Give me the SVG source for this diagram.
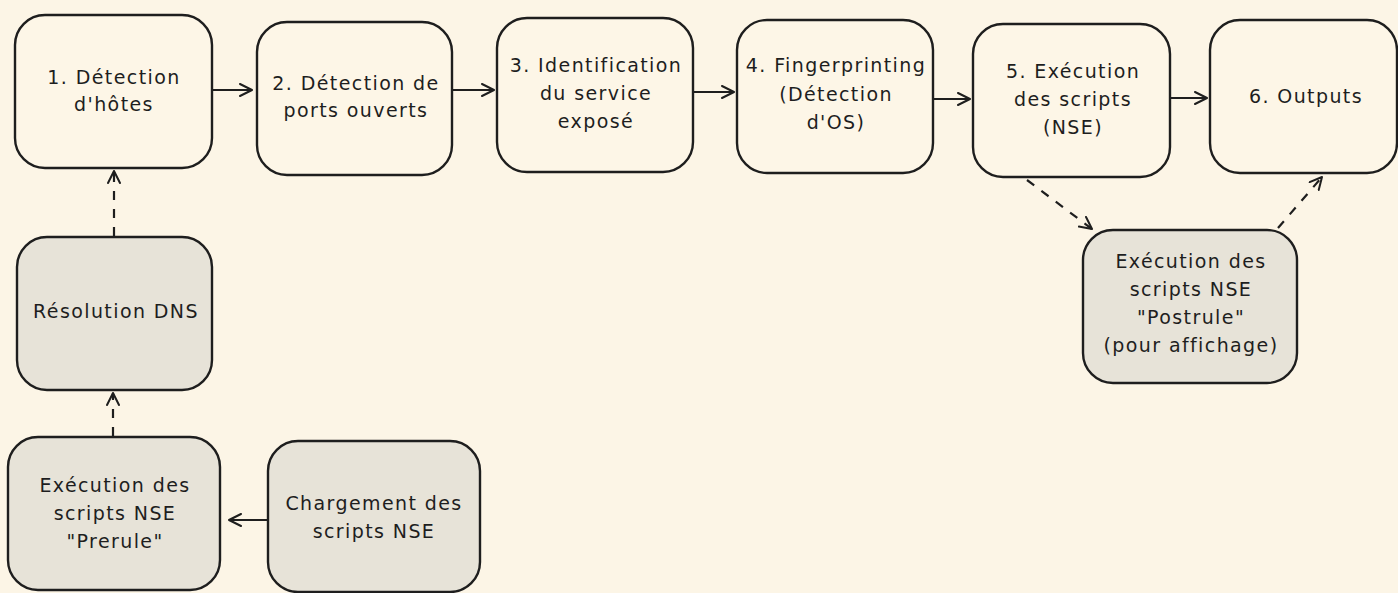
<svg xmlns="http://www.w3.org/2000/svg" width="1398" height="593" viewBox="0 0 1398 593">
  <style>
    .box { fill: #fdf6e7; stroke: #1e1e1e; stroke-width: 2.4; }
    .box.grey { fill: #e7e3d8; }
    .lbl { font-family: "DejaVu Sans", "Liberation Sans", sans-serif; font-size: 19px; letter-spacing: 1.4px; fill: #1e1e1e; text-anchor: middle; }
    .edge { fill: none; stroke: #1e1e1e; stroke-width: 2.2; }
    .dash { stroke-dasharray: 9 9; }
  </style>
  <defs>
    <marker id="arrow" viewBox="0 0 14 14" refX="13" refY="7" markerWidth="14" markerHeight="14" markerUnits="userSpaceOnUse" orient="auto">
      <path d="M1,1 L13,7 L1,13" fill="none" stroke="#1e1e1e" stroke-width="2" stroke-linejoin="round" stroke-linecap="round"/>
    </marker>
  </defs>

  <rect width="1398" height="593" fill="#fcf5e6"/>

  <!-- main pipeline -->
  <g id="n1">
    <rect class="box" x="15" y="15" width="197" height="153" rx="30"/>
    <text class="lbl" x="114" y="84">1. Détection</text>
    <text class="lbl" x="114" y="111">d'hôtes</text>
  </g>
  <g id="n2">
    <rect class="box" x="257" y="22" width="195" height="153" rx="30"/>
    <text class="lbl" x="356" y="90">2. Détection de</text>
    <text class="lbl" x="356" y="117">ports ouverts</text>
  </g>
  <g id="n3">
    <rect class="box" x="497" y="18" width="196" height="154" rx="30"/>
    <text class="lbl" x="596" y="72">3. Identification</text>
    <text class="lbl" x="596" y="100">du service</text>
    <text class="lbl" x="596" y="128">exposé</text>
  </g>
  <g id="n4">
    <rect class="box" x="737" y="20" width="196" height="153" rx="30"/>
    <text class="lbl" x="836" y="72">4. Fingerprinting</text>
    <text class="lbl" x="836" y="101">(Détection</text>
    <text class="lbl" x="836" y="129">d'OS)</text>
  </g>
  <g id="n5">
    <rect class="box" x="973" y="24" width="197" height="153" rx="30"/>
    <text class="lbl" x="1073" y="78">5. Exécution</text>
    <text class="lbl" x="1073" y="106">des scripts</text>
    <text class="lbl" x="1073" y="134">(NSE)</text>
  </g>
  <g id="n6">
    <rect class="box" x="1210" y="20" width="187" height="153" rx="30"/>
    <text class="lbl" x="1306" y="103">6. Outputs</text>
  </g>

  <!-- pre-scan and post-scan stages -->
  <g id="dns">
    <rect class="box grey" x="17" y="237" width="195" height="153" rx="30"/>
    <text class="lbl" x="116" y="318">Résolution DNS</text>
  </g>
  <g id="prerule">
    <rect class="box grey" x="8" y="437" width="212" height="153" rx="30"/>
    <text class="lbl" x="115" y="492">Exécution des</text>
    <text class="lbl" x="115" y="520">scripts NSE</text>
    <text class="lbl" x="115" y="548">"Prerule"</text>
  </g>
  <g id="load">
    <rect class="box grey" x="268" y="441" width="212" height="151" rx="30"/>
    <text class="lbl" x="374" y="510">Chargement des</text>
    <text class="lbl" x="374" y="538">scripts NSE</text>
  </g>
  <g id="postrule">
    <rect class="box grey" x="1083" y="230" width="214" height="153" rx="30"/>
    <text class="lbl" x="1191" y="268">Exécution des</text>
    <text class="lbl" x="1191" y="296">scripts NSE</text>
    <text class="lbl" x="1191" y="324">"Postrule"</text>
    <text class="lbl" x="1191" y="352">(pour affichage)</text>
  </g>

  <g id="connectors">
    <line class="edge" x1="213" y1="90" x2="252" y2="90" marker-end="url(#arrow)"/>
    <line class="edge" x1="453" y1="90" x2="494" y2="90" marker-end="url(#arrow)"/>
    <line class="edge" x1="694" y1="92" x2="734" y2="92" marker-end="url(#arrow)"/>
    <line class="edge" x1="934" y1="99" x2="970" y2="99" marker-end="url(#arrow)"/>
    <line class="edge" x1="1171" y1="98" x2="1207" y2="98" marker-end="url(#arrow)"/>
    <line class="edge dash" x1="114" y1="236" x2="114" y2="171" marker-end="url(#arrow)"/>
    <line class="edge dash" x1="113" y1="436" x2="113" y2="393" marker-end="url(#arrow)"/>
    <line class="edge" x1="267" y1="520" x2="229" y2="520" marker-end="url(#arrow)"/>
    <line class="edge dash" x1="1027" y1="180" x2="1092" y2="229" marker-end="url(#arrow)"/>
    <line class="edge dash" x1="1278" y1="228" x2="1322" y2="177" marker-end="url(#arrow)"/>
  </g>
</svg>
